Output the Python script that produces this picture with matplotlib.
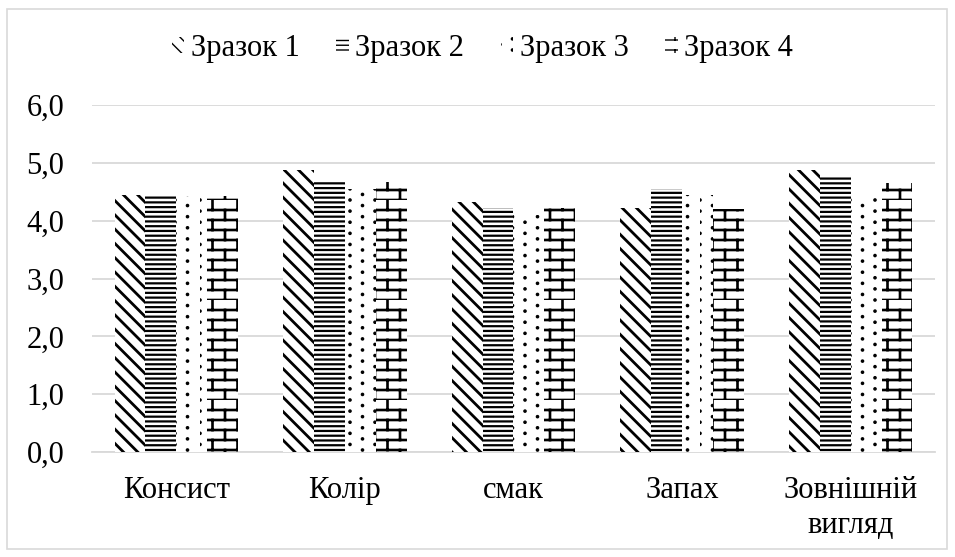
import warnings
import numpy as np
import matplotlib
matplotlib.use('Agg')
import matplotlib.pyplot as plt
from matplotlib import hatch as mhatch
from matplotlib.path import Path
from matplotlib.patches import Rectangle
from matplotlib.ticker import FuncFormatter

warnings.filterwarnings('ignore')

# data
categories = ['Консист', 'Колір', 'смак', 'Запах', 'Зовнішній\nвигляд']
series_names = ['Зразок 1', 'Зразок 2', 'Зразок 3', 'Зразок 4']
zrazok_1 = [4.45, 4.88, 4.33, 4.22, 4.88]
zrazok_2 = [4.45, 4.67, 4.22, 4.55, 4.77]
zrazok_3 = [4.43, 4.55, 4.10, 4.45, 4.40]
zrazok_4 = [4.43, 4.67, 4.22, 4.20, 4.65]
y_ticks = [0, 1, 2, 3, 4, 5, 6]


# custom hatches (one hatch tile = 1 inch)
class Stripes(mhatch.SouthEastHatch):
	def __init__(self, hatch, density):
		self.num_lines = hatch.count('s') * 14
		self.num_vertices = (self.num_lines + 1) * 2 if self.num_lines else 0


class HLines(mhatch.HorizontalHatch):
	def __init__(self, hatch, density):
		self.num_lines = hatch.count('h') * 21
		self.num_vertices = self.num_lines * 2


class Dots(mhatch.HatchPatternBase):
	filled = True

	def __init__(self, hatch, density):
		self.pts = []
		if 'd' in hatch:
			ncol = 8
			nrow = 9
			for i in range(ncol):
				shift = 0.5 / nrow if i % 2 else 0
				for j in range(nrow + 1):
					self.pts.append((i / ncol, j / nrow + shift))
		self.circ = Path.unit_circle()
		self.num_vertices = len(self.pts) * len(self.circ.vertices)

	def set_vertices_and_codes(self, vertices, codes):
		n = len(self.circ.vertices)
		r = 0.011
		for k, (x, y) in enumerate(self.pts):
			vertices[k * n:(k + 1) * n] = self.circ.vertices * r + [x, y]
			codes[k * n:(k + 1) * n] = self.circ.codes


class Bricks(mhatch.HatchPatternBase):
	def __init__(self, hatch, density):
		self.segs = []
		if 'b' in hatch:
			nrow = 10
			ncol = 4
			for j in range(nrow):
				y0 = j / nrow
				y1 = (j + 1) / nrow
				self.segs.append(((0, y0), (1, y0)))
				off = 0 if j % 2 == 0 else 0.5 / ncol
				for i in range(ncol + 1):
					x = i / ncol + off
					if x <= 1:
						self.segs.append(((x, y0), (x, y1)))
		self.num_vertices = len(self.segs) * 2

	def set_vertices_and_codes(self, vertices, codes):
		for k, (a, b) in enumerate(self.segs):
			vertices[2 * k] = a
			vertices[2 * k + 1] = b
			codes[2 * k] = Path.MOVETO
			codes[2 * k + 1] = Path.LINETO


mhatch._hatch_types.extend([Stripes, HLines, Dots, Bricks])

plt.rcParams['font.family'] = ['Liberation Serif', 'DejaVu Serif']
fsize = 22

fig = plt.figure(figsize=(9.55, 5.57), dpi=100)
ax = fig.add_axes([0.0963, 0.1885, 0.8827, 0.623])

x = np.arange(len(categories))
width = 0.183
data = [zrazok_1, zrazok_2, zrazok_3, zrazok_4]
hatches = ['s', 'h', 'd', 'b']
hatch_lw = [2.0, 1.6, 1.0, 1.9]

for k in range(4):
	with plt.rc_context({'hatch.linewidth': hatch_lw[k]}):
		bars = ax.bar(x + (k - 1.5) * width, data[k], width, color='white',
					  edgecolor='black', linewidth=0, hatch=hatches[k],
					  label=series_names[k], zorder=3)
		for b in bars:
			try:
				b.set_hatch_linewidth(hatch_lw[k])
			except AttributeError:
				pass

ax.set_ylim(0, 6)
ax.set_xlim(-0.5, len(categories) - 0.5)
ax.set_yticks(y_ticks)
ax.yaxis.set_major_formatter(FuncFormatter(lambda v, p: ('%.1f' % v).replace('.', ',')))
ax.set_xticks(x)
ax.set_xticklabels(categories, linespacing=1.3)
ax.tick_params(axis='both', length=0, labelsize=fsize)
ax.tick_params(axis='y', pad=20)
ax.tick_params(axis='x', pad=17)
ax.grid(axis='y', color='#d9d9d9', linewidth=1.3, zorder=0)
for s in ['top', 'right', 'left']:
	ax.spines[s].set_visible(False)
ax.spines['bottom'].set_color('#d9d9d9')
ax.spines['bottom'].set_linewidth(1.3)

fig.legend(loc='center', bbox_to_anchor=(0.505, 0.913), ncol=4, frameon=False,
		   prop={'family': ['Liberation Serif'], 'size': fsize},
		   handlelength=0.42, handleheight=0.42,
		   handletextpad=0.2, columnspacing=1.2)

# outer chart border
fig.patches.append(Rectangle((0.0073, 0.0145), 0.984, 0.97, transform=fig.transFigure,
							 fill=False, edgecolor='#d9d9d9', linewidth=1.2))

plt.savefig('out.png', dpi=100)
